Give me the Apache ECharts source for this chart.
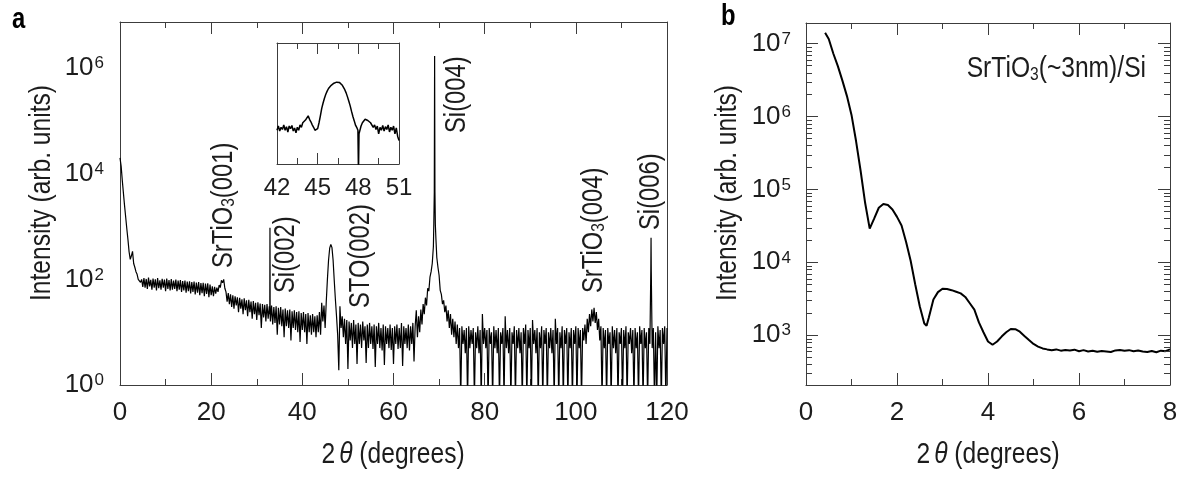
<!DOCTYPE html>
<html><head><meta charset="utf-8">
<script src="https://cdn.jsdelivr.net/npm/echarts@6/dist/echarts.min.js"></script>
<style>html,body{margin:0;padding:0;background:#fff}#c{width:1185px;height:479px}</style>
</head><body><div id="c"></div>
<script>
// ---- Panel a: wide-angle XRD scan [2theta (deg), intensity] ----
const scanA = [
[0,20000],[0.25,14000],[0.5,7500],[0.75,4300],[1,2500],[1.25,1500],[1.5,900],[1.75,560],[2,330],[2.25,240],[2.5,280],[2.75,340],[3,200],[3.25,170],[3.5,140],[3.75,125],[4,100],[4.25,105],[4.5,88],
[4.75,100],[5,72],[5.25,106],[5.5,70],[5.75,102],[6,66],[6.25,108],[6.5,74],[6.75,98],[7,64],[7.25,104],[7.5,70],[7.75,100],[8,62],[8.25,106],[8.5,68],[8.75,96],[9,64],[9.25,103],[9.5,70],[9.75,99],[10,60],[10.25,104],[10.5,66],[10.75,97],[11,62],[11.25,101],[11.5,64],[11.75,95],[12,66],[12.25,99],[12.5,60],[12.75,95],[13,64],[13.25,97],[13.5,58],[13.75,93],[14,62],[14.25,95],[14.5,56],[14.75,91],[15,60],[15.25,92],[15.5,54],[15.75,89],[16,58],[16.25,91],[16.5,52],[16.75,87],[17,56],[17.25,89],[17.5,50],[17.75,85],[18,55],[18.25,86],[18.5,48],[18.75,83],[19,53],[19.25,84],[19.5,46],[19.75,80],[20,50],
[20.25,74],[20.5,48],[20.75,72],[21,54],[21.25,70],[21.5,58],[21.75,78],[22,70],[22.25,96],[22.5,86],[22.75,100],[23,68],[23.25,58],[23.5,38],
[23.75,55],[24,34],[24.25,52],[24.5,30],[24.75,50],[25,28],[25.25,48],[25.5,32],[25.75,46],[26,24],[26.25,45],[26.5,28],[26.75,42],[27,22],[27.25,44],[27.5,26],[27.75,40],[28,20],[28.25,41],[28.5,24],[28.75,38],[29,18],[29.25,39],[29.5,22],[29.75,36],[30,17],[30.25,37],[30.5,21],[30.75,35],[31,12],[31.25,34],[31.5,19],[31.75,33],[32,16],[32.25,34],[32.5,18],[32.75,31],
[32.86,22],[32.9,950],[32.94,20],
[33,16],[33.25,32],[33.5,14],[33.75,30],[34,15],[34.25,31],[34.5,9],[34.75,29],[35,14],[35.25,30],[35.5,13],[35.75,27],[36,8],[36.25,28],[36.5,13],[36.75,26],[37,12],[37.25,27],[37.5,7],[37.75,25],[38,12],[38.25,26],[38.5,11],[38.75,24],[39,10],[39.25,25],[39.5,6.5],[39.75,23],[40,11],[40.25,24],[40.5,10],[40.75,22],[41,6],[41.25,23],[41.5,10],[41.75,21],[42,9],[42.25,22],[42.5,10],[42.75,20],[43,8],[43.25,21],[43.5,10],[43.75,24],[44,9],[44.25,36],[44.5,16],[44.75,32],[45,12],
[45.25,38],[45.5,100],[45.75,230],[46,390],[46.25,460],[46.5,400],[46.75,230],[47,95],[47.25,42],[47.5,20],[47.75,9],[48,1.9],[48.25,31],
[48.5,12],[48.75,20],[49,8],[49.25,18],[49.5,6],[49.75,17],[50,2],[50.25,16],[50.5,7],[50.75,15],[51,5],[51.25,17],[51.5,6],[51.75,14],[52,2.5],[52.25,15],[52.5,6],[52.75,14],[53,5],[53.25,16],[53.5,7],[53.75,13],[54,2.6],[54.25,14],[54.5,5],[54.75,15],[55,6],[55.25,13],[55.5,4.8],[55.75,14],[56,2.2],[56.25,13],[56.5,6],[56.75,15],[57,5],[57.25,12],[57.5,4.5],[57.75,14],[58,2.4],[58.25,13],[58.5,6],[58.75,12],[59,5],[59.25,14],[59.5,4.6],[59.75,12],[60,2.5],[60.25,13],[60.5,6],[60.75,14],[61,4.8],[61.25,12],[61.5,5],[61.75,15],[62,2.3],[62.25,13],[62.5,6],[62.75,12],[63,5],[63.25,14],[63.5,4.5],[63.75,13],[64,6],[64.25,15],[64.5,2.8],[64.75,13],
[65,26],[65.25,8],[65.5,20],[65.75,10],[66,27],[66.25,14],[66.5,34],[66.75,22],[67,45],[67.25,32],[67.5,68],[67.75,60],[68,110],[68.25,140],[68.5,200],[68.75,420],[68.85,1200],[68.95,4500],[69.02,1700000],[69.09,4500],[69.18,1100],[69.3,600],[69.5,260],[69.75,170],[70,120],[70.25,62],[70.5,52],[70.75,34],[71,40],[71.25,24],[71.5,32],[71.75,16],[72,26],[72.25,12],[72.5,22],[72.75,9],[73,18],[73.25,8],[73.5,16],[73.75,6],
[74,14],[74.25,5],[74.5,12],[74.75,0.5],[75,13],[75.25,6],[75.5,11],[75.75,4],[76,12],[76.25,0.5],[76.5,13],[76.75,5],[77,11],[77.25,6],[77.5,12],[77.75,0.5],[78,10],[78.25,5],[78.5,13],[78.75,4],[79,11],[79.25,0.5],[79.5,22],[79.75,6],[80,12],[80.25,5],[80.5,11],[80.75,0.5],[81,12],[81.25,6],[81.5,10],[81.75,0.5],[82,13],[82.25,5],[82.5,11],[82.75,4],[83,12],[83.25,0.5],[83.5,10],[83.75,6],[84,12],[84.25,0.5],[84.5,20],[84.75,5],[85,11],[85.25,4],[85.5,12],[85.75,0.5],[86,10],[86.25,6],[86.5,13],[86.75,0.5],[87,11],[87.25,5],[87.5,12],[87.75,4],[88,10],[88.25,0.5],[88.5,12],[88.75,6],[89,14],[89.25,0.5],[89.5,11],[89.75,5],[90,12],[90.25,0.5],[90.5,17],[90.75,6],[91,11],[91.25,4],[91.5,12],[91.75,0.5],[92,10],[92.25,5],[92.5,13],[92.75,0.5],[93,11],[93.25,6],[93.5,12],[93.75,0.5],[94,10],[94.25,5],[94.5,12],[94.75,4],[95,11],[95.25,0.5],[95.5,18],[95.75,6],[96,12],[96.25,0.5],[96.5,10],[96.75,5],[97,13],[97.25,0.5],[97.5,11],[97.75,6],[98,12],[98.25,0.5],[98.5,10],[98.75,5],[99,12],[99.25,0.5],[99.5,11],[99.75,6],[100,13],[100.25,0.5],[100.5,12],[100.75,5],[101,11],[101.25,0.5],[101.5,12],[101.75,7],
[102,14],[102.25,6],[102.5,18],[102.75,10],[103,22],[103.25,13],[103.5,27],[103.75,16],[104,29],[104.25,15],[104.5,24],[104.75,11],[105,18],[105.25,7],[105.5,13],[105.75,0.5],
[106,12],[106.25,5],[106.5,11],[106.75,0.5],[107,12],[107.25,6],[107.5,10],[107.75,0.5],[108,13],[108.25,5],[108.5,11],[108.75,4],[109,12],[109.25,0.5],[109.5,10],[109.75,6],[110,12],[110.25,0.5],[110.5,11],[110.75,5],[111,13],[111.25,0.5],[111.5,10],[111.75,6],[112,12],[112.25,4],[112.5,11],[112.75,0.5],[113,12],[113.25,5],[113.5,10],[113.75,0.5],[114,13],[114.25,6],[114.5,11],[114.75,0.5],[115,12],[115.25,5],[115.5,10],[115.75,0.5],[116,12],[116.25,6],
[116.45,150],[116.5,615],[116.55,140],
[116.75,5],[117,12],[117.25,0.5],[117.5,10],[117.75,0.5],[118,13],[118.25,5],[118.5,11],[118.75,0.5],[119,12],[119.25,6],[119.5,13],[119.75,0.5],[120,12]
];

// ---- Inset: detail around STO(002) [2theta, intensity] ----
const insetScan = [
[42,18],[42.1,24],[42.2,17],[42.3,22],[42.4,19],[42.5,26],[42.6,18],[42.7,23],[42.8,16],[42.9,24],[43,20],[43.1,25],[43.2,17],[43.3,21],[43.4,15],[43.5,22],[43.6,18],[43.7,26],[43.8,22],[43.9,30],[44,27],[44.1,36],[44.2,33],[44.3,48],[44.4,38],[44.5,32],[44.6,26],[44.7,22],[44.8,18],[44.9,16],[45,20],[45.1,30],[45.2,48],[45.3,80],[45.4,115],[45.5,160],[45.6,210],[45.7,260],[45.8,310],[45.9,350],[46,385],[46.1,420],[46.2,445],[46.3,465],[46.4,478],[46.5,480],[46.6,470],[46.7,440],[46.8,395],[46.9,345],[47,285],[47.1,230],[47.2,175],[47.3,130],[47.4,95],[47.5,65],[47.6,46],[47.7,34],[47.8,25],[47.9,21],[47.97,18],[48.01,1],[48.05,14],[48.1,16],[48.2,24],[48.3,30],[48.4,34],[48.5,38],[48.6,40],[48.7,35],[48.8,38],[48.9,30],[49,27],[49.1,22],[49.2,26],[49.3,19],[49.4,24],[49.5,14],[49.6,22],[49.7,18],[49.8,25],[49.9,17],[50,23],[50.1,19],[50.2,26],[50.3,16],[50.4,22],[50.5,18],[50.6,24],[50.7,14],[50.8,21],[50.9,12],[51,9]
];

// ---- Panel b: low-angle reflectivity [2theta, intensity] ----
const scanB = [
[0.42,14000000],[0.5,11500000],[0.6,7300000],[0.7,4900000],[0.8,3100000],[0.9,1900000],[1,1050000],[1.1,460000],[1.2,180000],[1.3,65000],[1.4,29000],[1.5,40000],[1.6,56000],[1.7,63000],[1.8,61000],[1.9,53000],[2,42000],[2.1,32000],[2.2,19000],[2.3,10500],[2.4,5000],[2.5,2500],[2.6,1450],[2.65,1350],[2.7,1750],[2.8,3100],[2.9,3900],[3,4350],[3.1,4300],[3.2,4150],[3.3,3950],[3.4,3750],[3.5,3350],[3.6,2750],[3.7,2250],[3.8,1500],[3.9,1100],[4,820],[4.1,740],[4.2,820],[4.3,960],[4.4,1100],[4.5,1220],[4.6,1210],[4.7,1120],[4.8,980],[4.9,860],[5,760],[5.1,700],[5.2,660],[5.3,640],[5.4,625],[5.5,640],[5.6,615],[5.7,630],[5.8,620],[5.9,635],[6,605],[6.1,625],[6.2,600],[6.3,615],[6.4,595],[6.5,610],[6.6,600],[6.7,590],[6.8,620],[6.9,630],[7,615],[7.1,625],[7.2,605],[7.3,620],[7.4,600],[7.5,590],[7.6,610],[7.7,585],[7.8,615],[7.9,605],[8,640]
];

// ---- Axis ranges / ticks ----
const aXRange = [0, 120], aYRange = [1, 7.5e6];
const insetXRange = [42, 51], insetYRange = [1.8, 6900];
const bXRange = [0, 8], bYRange = [208, 1.91e7];
const bMinorTicks = [300,400,500,600,700,800,900,2000,3000,4000,5000,6000,7000,8000,9000,20000,30000,40000,50000,60000,70000,80000,90000,200000,300000,400000,500000,600000,700000,800000,900000,2000000,3000000,4000000,5000000,6000000,7000000,8000000,9000000];

// ---- Texts ----
const peakLabels = ['SrTiO{s|3}(001)', 'Si(002)', 'STO(002)', 'Si(004)', 'SrTiO{s|3}(004)', 'Si(006)'];
const yTitle = 'Intensity (arb. units)';
const xTitle = '2{i|θ} (degrees)';
const sampleLabel = 'SrTiO{s|3}(~3nm)/Si';

const FONT = "'Liberation Sans',Arial,sans-serif";
const TXT = '#1c1c1c', AX = '#3c3c3c';
const TFS = 26;       // tick label size
const NX = 0.82;      // horizontal compression for narrow-looking titles

function decade(v, evenOnly) {
  const l = Math.log10(v), e = Math.round(l);
  if (Math.abs(l - e) > 1e-6) return '';
  if (evenOnly && e % 2 !== 0) return '';
  return '{b|10}{s|' + e + '}';
}
const supRich = {
  b: { fontSize: TFS, fontFamily: FONT, color: TXT },
  s: { fontSize: 17, fontFamily: FONT, color: TXT, verticalAlign: 'top', padding: [0,0,0,1] }
};
const subRich = {
  s: { fontSize: 19, fontFamily: FONT, fill: TXT, verticalAlign: 'bottom', padding: [7,0,0,0] }
};
const thetaRich = {
  i: { fontSize: 30, fontFamily: FONT, fontStyle: 'italic', fill: TXT, padding: [0,0,0,5] }
};
const axLine = { show: true, onZero: false, lineStyle: { color: AX, width: 1 } };
const tickIn = (len) => ({ show: true, inside: true, length: len, lineStyle: { color: AX, width: 1 } });
const minorIn = (len) => ({ show: true, splitNumber: 2, length: len, lineStyle: { color: AX, width: 1 } });

function xAxisPair(gi, range, interval, lab) {
  const base = { type: 'value', gridIndex: gi, min: range[0], max: range[1], interval: interval,
    axisLine: axLine, splitLine: { show: false } };
  return [
    Object.assign({}, base, { position: 'bottom', axisTick: tickIn(lab.major), minorTick: minorIn(lab.minor),
      axisLabel: { show: true, fontSize: lab.fs, fontFamily: FONT, color: TXT, margin: lab.margin } }),
    Object.assign({}, base, { position: 'top', axisTick: tickIn(lab.major), minorTick: minorIn(lab.minor),
      axisLabel: { show: false } })
  ];
}

const xAxes = [].concat(
  xAxisPair(0, aXRange, 20, { major: 12, minor: 6, fs: TFS, margin: 15 }),
  xAxisPair(1, insetXRange, 3, { major: 11, minor: 6, fs: 24, margin: 12 }),
  xAxisPair(2, bXRange, 2, { major: 12, minor: 6, fs: TFS, margin: 15 })
);

const yAxes = [
  { type: 'log', gridIndex: 0, position: 'left', min: aYRange[0], max: aYRange[1], splitNumber: 5,
    axisLine: axLine, axisTick: { show: false }, splitLine: { show: false },
    axisLabel: { formatter: v => decade(v, true), rich: supRich, margin: 16 } },
  { type: 'log', gridIndex: 0, position: 'right', min: aYRange[0], max: aYRange[1],
    axisLine: axLine, axisTick: { show: false }, splitLine: { show: false }, axisLabel: { show: false } },
  { type: 'log', gridIndex: 1, position: 'left', min: insetYRange[0], max: insetYRange[1],
    axisLine: axLine, axisTick: { show: false }, splitLine: { show: false }, axisLabel: { show: false } },
  { type: 'log', gridIndex: 1, position: 'right', min: insetYRange[0], max: insetYRange[1],
    axisLine: axLine, axisTick: { show: false }, splitLine: { show: false }, axisLabel: { show: false } },
  { type: 'log', gridIndex: 2, position: 'left', min: bYRange[0], max: bYRange[1], splitNumber: 5,
    axisLine: axLine, axisTick: tickIn(12), splitLine: { show: false },
    axisLabel: { formatter: v => decade(v, false), rich: supRich, margin: 15 } },
  { type: 'log', gridIndex: 2, position: 'right', min: bYRange[0], max: bYRange[1], splitNumber: 5,
    axisLine: axLine, axisTick: tickIn(12), splitLine: { show: false }, axisLabel: { show: false } }
];

// minor log ticks on panel b (left and right frame), positioned through the panel-b axes
const minorTickSeries = {
  type: 'custom', coordinateSystem: 'cartesian2d', xAxisIndex: 4, yAxisIndex: 4, silent: true, clip: false, z: 10,
  data: bMinorTicks.map(v => [bXRange[0], v]), encode: { x: 0, y: 1 },
  renderItem: function (params, api) {
    const v = api.value(1);
    const l = api.coord([bXRange[0], v]), r = api.coord([bXRange[1], v]);
    const y = Math.round(l[1]) + 0.5, xl = Math.round(l[0]), xr = Math.round(r[0]);
    return { type: 'group', children: [
      { type: 'line', shape: { x1: xl, y1: y, x2: xl + 6, y2: y }, style: { stroke: AX, lineWidth: 1, fill: null } },
      { type: 'line', shape: { x1: xr - 6, y1: y, x2: xr, y2: y }, style: { stroke: AX, lineWidth: 1, fill: null } }
    ] };
  }
};

const txt = (text, x, y, opt) => Object.assign({
  type: 'text', x: x, y: y, z: 50, scaleX: NX,
  style: Object.assign({ text: text, fontSize: 30, fontFamily: FONT, fill: TXT, align: 'center', verticalAlign: 'middle' }, opt.style || {})
}, opt.el || {});
const ann = (text, x, y) => txt(text, x, y, { el: { rotation: Math.PI / 2 }, style: { fontSize: 29, align: 'left', rich: subRich } });

const chart = echarts.init(document.getElementById('c'), null, { renderer: 'canvas' });
chart.setOption({
  animation: false,
  backgroundColor: '#fff',
  grid: [
    { left: 120, top: 22, width: 547, height: 363, containLabel: false, outerBoundsMode: 'none' },
    { left: 277, top: 43, width: 122, height: 121, containLabel: false, outerBoundsMode: 'none' },
    { left: 806, top: 23, width: 364, height: 362, containLabel: false, outerBoundsMode: 'none' }
  ],
  xAxis: xAxes,
  yAxis: yAxes,
  series: [
    { type: 'line', xAxisIndex: 0, yAxisIndex: 0, data: scanA, showSymbol: false, symbol: 'none', clip: true,
      lineStyle: { color: '#000', width: 1.2 }, emphasis: { disabled: true } },
    { type: 'line', xAxisIndex: 2, yAxisIndex: 2, data: insetScan, showSymbol: false, symbol: 'none', clip: true,
      lineStyle: { color: '#000', width: 1.5 }, emphasis: { disabled: true } },
    { type: 'line', xAxisIndex: 4, yAxisIndex: 4, data: scanB, showSymbol: false, symbol: 'none', clip: true,
      lineStyle: { color: '#000', width: 2 }, emphasis: { disabled: true } },
    minorTickSeries
  ],
  graphic: [
    txt('a', 12, 20, { style: { fontSize: 29, fontWeight: 'bold', fill: '#000', align: 'left' } }),
    txt('b', 721, 17, { style: { fontSize: 29, fontWeight: 'bold', fill: '#000', align: 'left' } }),
    txt(yTitle, 42, 193, { el: { rotation: Math.PI / 2 } }),
    txt(yTitle, 728, 193, { el: { rotation: Math.PI / 2 } }),
    txt(xTitle, 393, 455, { style: { rich: thetaRich } }),
    txt(xTitle, 988, 455, { style: { rich: thetaRich } }),
    txt(sampleLabel, 1146, 69, { style: { align: 'right', rich: subRich } }),
    ann(peakLabels[0], 224, 268),
    ann(peakLabels[1], 286, 293),
    ann(peakLabels[2], 361, 308),
    ann(peakLabels[3], 457, 133),
    ann(peakLabels[4], 594, 293),
    ann(peakLabels[5], 651, 230)
  ]
});
</script></body></html>
